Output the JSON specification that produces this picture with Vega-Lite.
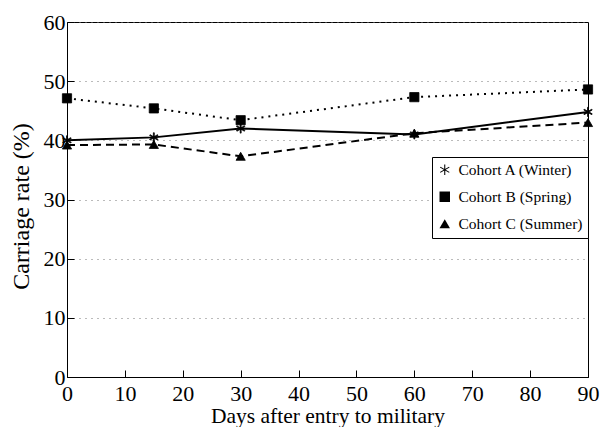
{
  "$schema": "https://vega.github.io/schema/vega-lite/v6.json",
  "autosize": {"type": "none"},
  "padding": {"left": 67, "top": 22, "right": 13, "bottom": 50},
  "width": 521,
  "height": 355,
  "background": "white",
  "config": {
    "view": {"stroke": "black", "strokeWidth": 1},
    "font": "Liberation Serif",
    "axis": {
      "labelFont": "Liberation Serif",
      "titleFont": "Liberation Serif",
      "labelColor": "black",
      "titleColor": "black",
      "domainColor": "black",
      "tickColor": "black",
      "labelFontSize": 22,
      "titleFontSize": 21.5,
      "titleFontWeight": "normal",
      "tickSize": -7
    }
  },
  "data": {
    "values": [
      {"day": 0, "cohort": "Cohort A (Winter)", "rate": 40.0},
      {"day": 15, "cohort": "Cohort A (Winter)", "rate": 40.5},
      {"day": 30, "cohort": "Cohort A (Winter)", "rate": 42.0},
      {"day": 60, "cohort": "Cohort A (Winter)", "rate": 41.0},
      {"day": 90, "cohort": "Cohort A (Winter)", "rate": 44.8},
      {"day": 0, "cohort": "Cohort B (Spring)", "rate": 47.1},
      {"day": 15, "cohort": "Cohort B (Spring)", "rate": 45.4},
      {"day": 30, "cohort": "Cohort B (Spring)", "rate": 43.4},
      {"day": 60, "cohort": "Cohort B (Spring)", "rate": 47.3},
      {"day": 90, "cohort": "Cohort B (Spring)", "rate": 48.6},
      {"day": 0, "cohort": "Cohort C (Summer)", "rate": 39.2},
      {"day": 15, "cohort": "Cohort C (Summer)", "rate": 39.3},
      {"day": 30, "cohort": "Cohort C (Summer)", "rate": 37.3},
      {"day": 60, "cohort": "Cohort C (Summer)", "rate": 41.2},
      {"day": 90, "cohort": "Cohort C (Summer)", "rate": 43.0}
    ]
  },
  "encoding": {
    "x": {
      "field": "day", "type": "quantitative",
      "scale": {"domain": [0, 90], "nice": false},
      "axis": {"values": [0,10,20,30,40,50,60,70,80,90], "grid": false, "title": "Days after entry to military", "labelPadding": 13, "titleY": 45, "titleBaseline": "alphabetic", "labelFlush": false}
    },
    "y": {
      "field": "rate", "type": "quantitative",
      "scale": {"domain": [0, 60], "nice": false},
      "axis": {"values": [0,10,20,30,40,50,60], "grid": true, "gridColor": "#777", "gridDash": [1,5], "gridWidth": 1, "title": "Carriage rate (%)", "titleFontSize": 24, "labelPadding": 9, "titleX": -39, "titleY": 184, "titleBaseline": "alphabetic", "titleAlign": "center", "titleAngle": -90, "labelFlush": false}
    }
  },
  "layer": [
    {
      "transform": [{"filter": "datum.cohort === 'Cohort A (Winter)'"}],
      "mark": {"type": "line", "color": "black", "strokeWidth": 2}
    },
    {
      "transform": [{"filter": "datum.cohort === 'Cohort B (Spring)'"}],
      "mark": {"type": "line", "color": "black", "strokeWidth": 2, "strokeDash": [2, 5]}
    },
    {
      "transform": [{"filter": "datum.cohort === 'Cohort C (Summer)'"}],
      "mark": {"type": "line", "color": "black", "strokeWidth": 2, "strokeDash": [8, 5]}
    },
    {
      "mark": {"type": "point", "filled": true, "fill": "black", "stroke": "black", "strokeWidth": 0.8, "opacity": 1, "fillOpacity": 1},
      "encoding": {
        "shape": {
          "field": "cohort", "type": "nominal",
          "scale": {"domain": ["Cohort A (Winter)", "Cohort B (Spring)", "Cohort C (Summer)"], "range": ["M-0.1,-1L0.1,-1L0.1,1L-0.1,1Z M0.813,-0.587L0.913,-0.413L-0.813,0.587L-0.913,0.413Z M-0.913,-0.413L-0.813,-0.587L0.913,0.413L0.813,0.587Z", "square", "triangle-up"]},
          "legend": {
            "title": null,
            "orient": "none",
            "legendX": 365,
            "legendY": 135,
            "strokeColor": "black",
            "fillColor": "white",
            "padding": 5,
            "rowPadding": 10,
            "labelFont": "Liberation Serif",
            "labelFontSize": 15.5,
            "labelColor": "black",
            "symbolFillColor": "black",
            "symbolStrokeColor": "black",
            "symbolSize": 110,
            "symbolStrokeWidth": 0.8,
            "symbolOpacity": 1,
            "labelOffset": 6
          }
        },
        "size": {"value": 85}
      }
    }
  ]
}
